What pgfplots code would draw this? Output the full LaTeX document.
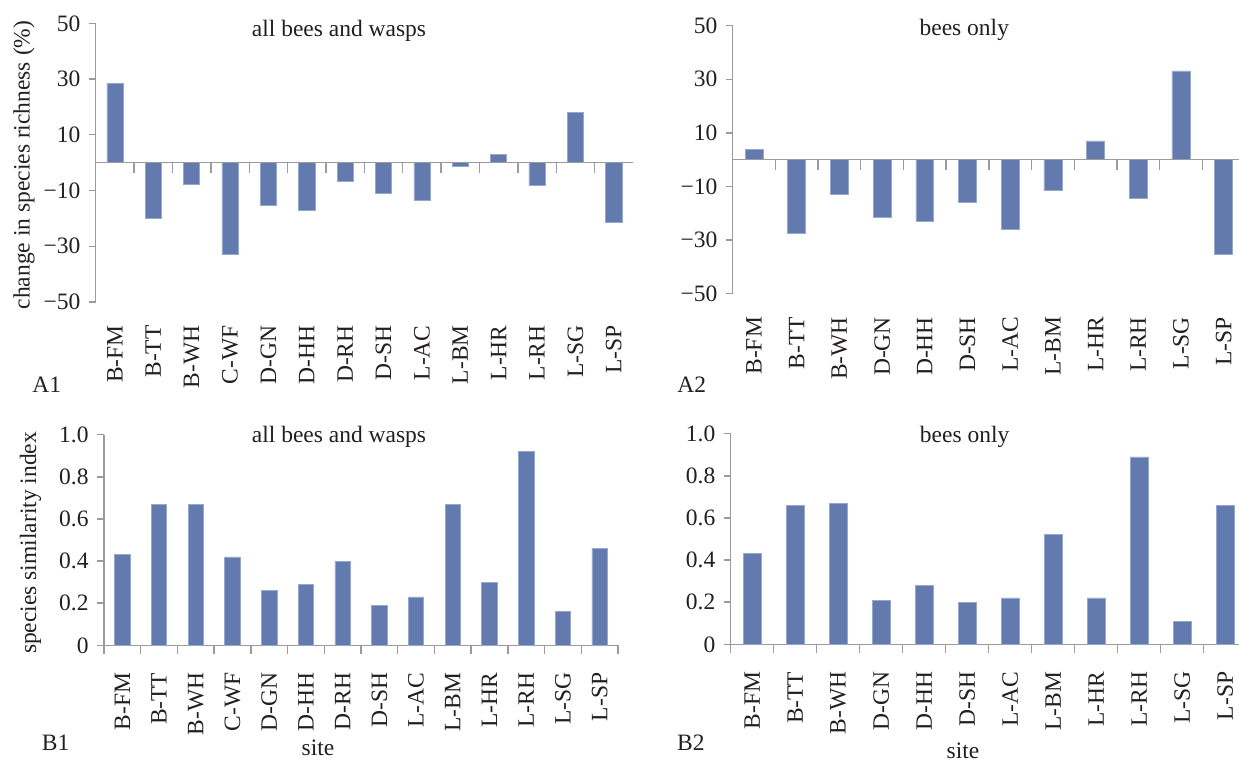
\documentclass[border=0pt]{standalone}
\usepackage{pgfplots}
\pgfplotsset{compat=1.18}
\usepackage{fontspec}
\setmainfont{Liberation Serif}
\definecolor{barblue}{RGB}{98,122,174}
\definecolor{baredge}{RGB}{150,168,205}
\definecolor{axgray}{RGB}{155,155,155}
\definecolor{txt}{RGB}{35,31,32}

\pgfplotsset{
  panel/.style={
    scale only axis, clip=false, anchor=south west,
    ybar, bar width=0.42,
    axis x line*=bottom, axis y line*=left,
    axis line style={draw=axgray, line width=0.7pt, -},
    xtick style={draw=none},
    ytick style={draw=axgray, line width=0.7pt},
    tick align=outside, major tick length=3.5pt,
    xticklabel style={rotate=90, anchor=east, inner sep=0pt, text=txt},
    xticklabel shift=8pt,
    yticklabel style={anchor=east, inner sep=0pt, text=txt},
    yticklabel shift=4pt,
  },
  bars/.style={fill=barblue, draw=baredge, line width=0.3pt},
}

\begin{document}
\begin{tikzpicture}[font=\fontsize{11.75pt}{14pt}\selectfont, text=txt]
\path[use as bounding box] (0,0) rectangle (619.5pt,381pt);

% ---------- A1 ----------
\begin{axis}[panel, at={(47.85pt,230pt)}, width=268.65pt, height=139.35pt,
  xmin=-0.5, xmax=13.5, ymin=-50, ymax=50,
  ytick={-50,-30,-10,10,30,50}, yticklabels={−50,−30,−10,10,30,50},
  xtick={0,...,13},
  xticklabels={B-FM,B-TT,B-WH,C-WF,D-GN,D-HH,D-RH,D-SH,L-AC,L-BM,L-HR,L-RH,L-SG,L-SP},
  x axis line style={draw=none}]
\addplot[bars] coordinates {(0,28.5) (1,-19.8) (2,-7.7) (3,-33.0) (4,-15.2) (5,-17.0) (6,-6.7) (7,-10.9) (8,-13.4) (9,-1.3) (10,3.0) (11,-8.1) (12,18.1) (13,-21.4)};
\draw[axgray, line width=0.7pt] (axis cs:-0.5,0) -- (axis cs:13.5,0);
\pgfplotsinvokeforeach{0.5,1.5,...,12.5}{\draw[axgray, line width=0.7pt] (axis cs:#1,0) -- (axis cs:#1,-3.6);}
\end{axis}

% ---------- A2 ----------
\begin{axis}[panel, at={(366.35pt,234.15pt)}, width=253.15pt, height=134pt,
  xmin=-0.5, xmax=11.36, ymin=-50, ymax=50,
  ytick={-50,-30,-10,10,30,50}, yticklabels={−50,−30,−10,10,30,50},
  xtick={0,...,11},
  xticklabels={B-FM,B-TT,B-WH,D-GN,D-HH,D-SH,L-AC,L-BM,L-HR,L-RH,L-SG,L-SP},
  x axis line style={draw=none}]
\addplot[bars] coordinates {(0,3.9) (1,-27.4) (2,-12.8) (3,-21.4) (4,-22.9) (5,-15.8) (6,-25.9) (7,-11.6) (8,7.0) (9,-14.3) (10,33.1) (11,-35.2)};
\draw[axgray, line width=0.7pt] (axis cs:-0.5,0) -- (axis cs:11.36,0);
\pgfplotsinvokeforeach{0.5,1.5,...,10.5}{\draw[axgray, line width=0.7pt] (axis cs:#1,0) -- (axis cs:#1,-3.7);}
\end{axis}

% ---------- B1 ----------
\begin{axis}[panel, at={(52pt,58.35pt)}, width=257pt, height=105.3pt,
  xmin=-0.5, xmax=13.5, ymin=0, ymax=1,
  ytick={0,0.2,0.4,0.6,0.8,1}, yticklabels={0,0.2,0.4,0.6,0.8,1.0},
  xtick={0,...,13},
  xticklabels={B-FM,B-TT,B-WH,C-WF,D-GN,D-HH,D-RH,D-SH,L-AC,L-BM,L-HR,L-RH,L-SG,L-SP},
  xticklabel shift=10pt]
\addplot[bars] coordinates {(0,0.43) (1,0.67) (2,0.67) (3,0.42) (4,0.26) (5,0.29) (6,0.40) (7,0.19) (8,0.23) (9,0.67) (10,0.30) (11,0.92) (12,0.16) (13,0.46)};
\pgfplotsinvokeforeach{-0.5,0.5,...,13.5}{\draw[axgray, line width=0.7pt] (axis cs:#1,0) -- (axis cs:#1,-0.043);}
\end{axis}

% ---------- B2 ----------
\begin{axis}[panel, at={(365.35pt,58.85pt)}, width=254.15pt, height=105.3pt,
  xmin=-0.5, xmax=11.32, ymin=0, ymax=1,
  ytick={0,0.2,0.4,0.6,0.8,1}, yticklabels={0,0.2,0.4,0.6,0.8,1.0},
  xtick={0,...,11},
  xticklabels={B-FM,B-TT,B-WH,D-GN,D-HH,D-SH,L-AC,L-BM,L-HR,L-RH,L-SG,L-SP},
  xticklabel shift=10pt]
\addplot[bars] coordinates {(0,0.43) (1,0.66) (2,0.67) (3,0.21) (4,0.28) (5,0.20) (6,0.22) (7,0.52) (8,0.22) (9,0.89) (10,0.11) (11,0.66)};
\pgfplotsinvokeforeach{-0.5,0.5,...,10.5}{\draw[axgray, line width=0.7pt] (axis cs:#1,0) -- (axis cs:#1,-0.043);}
\end{axis}

% ---------- titles and labels ----------
\node[anchor=base] at (169.5pt,362.65pt) {all bees and wasps};
\node[anchor=base] at (482.15pt,363pt) {bees only};
\node[anchor=base] at (169.5pt,159.5pt) {all bees and wasps};
\node[anchor=base] at (482.3pt,159.65pt) {bees only};

\node[rotate=90, anchor=base] at (14.8pt,298.5pt) {change in species richness (\%)};
\node[rotate=90, anchor=base] at (18pt,109.5pt) {species similarity index};

\node[anchor=base] at (159pt,3.5pt) {site};
\node[anchor=base] at (481.5pt,2pt) {site};

\node[anchor=base west, inner sep=0pt] at (16pt,184.5pt) {A1};
\node[anchor=base west, inner sep=0pt] at (338.5pt,184.5pt) {A2};
\node[anchor=base west, inner sep=0pt] at (20.75pt,5.65pt) {B1};
\node[anchor=base west, inner sep=0pt] at (338.35pt,5.65pt) {B2};
\end{tikzpicture}
\end{document}
